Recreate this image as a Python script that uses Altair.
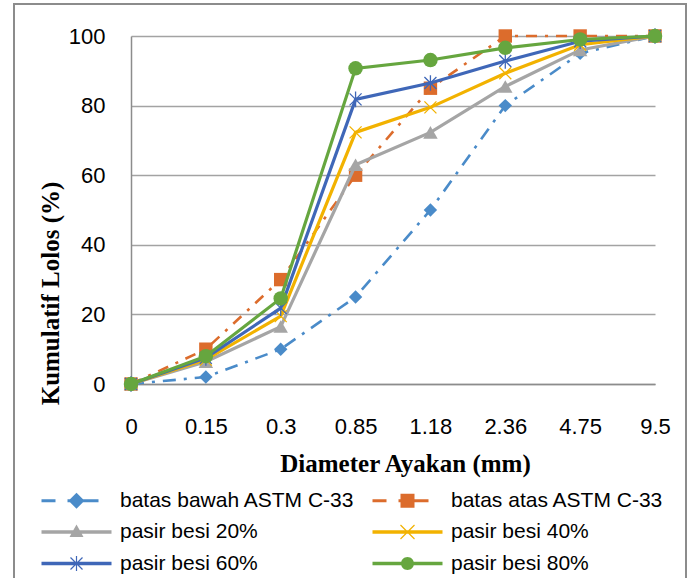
import altair as alt
import pandas as pd
import math

# ---------------- data ----------------
categories = ["0", "0.15", "0.3", "0.85", "1.18", "2.36", "4.75", "9.5"]
series_names = [
    "batas bawah ASTM C-33",
    "batas atas ASTM C-33",
    "pasir besi 20%",
    "pasir besi 40%",
    "pasir besi 60%",
    "pasir besi 80%",
]
batas_bawah = [0, 2, 10, 25, 50, 80, 95, 100]
batas_atas = [0, 10, 30, 60, 85, 100, 100, 100]
pasir_20 = [0, 6.4, 16.5, 63, 72.3, 85.5, 96, 100]
pasir_40 = [0, 7, 19.5, 72.3, 79.5, 89.3, 97.5, 100]
pasir_60 = [0, 7.5, 21.8, 81.8, 86.5, 92.8, 98.5, 100]
pasir_80 = [0, 8, 24.6, 90.7, 93.1, 96.6, 99, 100]
y_ticks = [0, 20, 40, 60, 80, 100]

all_values = [batas_bawah, batas_atas, pasir_20, pasir_40, pasir_60, pasir_80]

rows = []
for name, vals in zip(series_names, all_values):
    for c, v in zip(categories, vals):
        rows.append({"series": name, "d": c, "v": v})
df = pd.DataFrame(rows)

# ---------------- styles ----------------
colors = ["#4a8bc9", "#dc6c2c", "#a5a5a5", "#f2b200", "#3f67b8", "#66a63f"]
dashes = [[13, 8, 3, 8], [11, 8, 3, 8], None, None, None, None]
line_w = [2.6, 2.6, 3.2, 3.2, 3.2, 3.2]

x_path = "M-1,-1L1,1M-1,1L1,-1"
star_path = "M-1,-1L1,1M-1,1L1,-1M0,-1.3L0,1.3"
markers = [
    dict(shape="diamond", filled=True, size=180),
    dict(shape="square", filled=True, size=180),
    dict(shape="triangle-up", filled=True, size=210),
    dict(shape=x_path, filled=False, size=144, strokeWidth=1.3),
    dict(shape=star_path, filled=False, size=144, strokeWidth=1.3),
    dict(shape="circle", filled=True, size=210),
]


def poly(pts):
    area = 0
    for i in range(len(pts)):
        x1, y1 = pts[i]
        x2, y2 = pts[(i + 1) % len(pts)]
        area += x1 * y2 - x2 * y1
    if area < 0:
        pts = pts[::-1]
    s = "M" + "L".join(f"{x:.2f},{y:.2f}" for x, y in pts) + "Z"
    return s


def hbar(x1, x2, t=3.0):
    return poly([(x1, -t / 2), (x2, -t / 2), (x2, t / 2), (x1, t / 2)])


def bar(x1, y1, x2, y2, t=1.2):
    dx, dy = x2 - x1, y2 - y1
    n = math.hypot(dx, dy)
    nx, ny = -dy / n * t / 2, dx / n * t / 2
    return poly([(x1 + nx, y1 + ny), (x2 + nx, y2 + ny), (x2 - nx, y2 - ny), (x1 - nx, y1 - ny)])


def circle(r):
    return f"M{-r},0A{r},{r} 0 1,1 {r},0A{r},{r} 0 1,1 {-r},0Z"


legend_paths = [
    hbar(-35, -21, 3) + hbar(-9, 22, 3) + poly([(-8, 0), (0, -8), (8, 0), (0, 8)]),
    hbar(-35, -21, 3) + hbar(-9, 21, 3) + poly([(-7, -7), (7, -7), (7, 7), (-7, 7)]),
    hbar(-35, 35, 3.4) + poly([(0, -7.5), (7, 5), (-7, 5)]),
    hbar(-35, 35, 3.4) + bar(-7, -7, 7, 7) + bar(-7, 7, 7, -7),
    hbar(-35, 35, 3.4) + bar(-6, -6, 6, 6) + bar(-6, 6, 6, -6) + bar(0, -7.5, 0, 7.5),
    hbar(-35, 35, 3.4) + circle(6.5),
]

# ---------------- encodings ----------------
x_enc = alt.X(
    "d:O",
    sort=categories,
    scale=alt.Scale(type="point", padding=0),
    axis=alt.Axis(
        title="Diameter Ayakan (mm)",
        labelAngle=0,
        grid=False,
        ticks=False,
        tickSize=0,
        domain=True,
        domainColor="#8c8c8c",
        domainWidth=1.5,
        labelFont="Liberation Sans",
        labelFontSize=22,
        labelColor="black",
        labelPadding=32,
        titleFont="Liberation Serif",
        titleFontSize=25,
        titleFontWeight="bold",
        titleColor="black",
        titleX=274,
        titleY=79,
        titleAlign="center",
        titleBaseline="middle",
    ),
)
y_enc = alt.Y(
    "v:Q",
    scale=alt.Scale(domain=[0, 100], nice=False),
    axis=alt.Axis(
        title="Kumulatif Lolos (%)",
        values=y_ticks,
        grid=True,
        gridColor="#a3a3a3",
        gridWidth=1.3,
        ticks=False,
        tickSize=0,
        domain=True,
        domainColor="#8c8c8c",
        domainWidth=1.5,
        labelFont="Liberation Sans",
        labelFontSize=22,
        labelColor="black",
        labelPadding=26,
        titleFont="Liberation Serif",
        titleFontSize=25,
        titleFontWeight="bold",
        titleColor="black",
        titleAngle=270,
        titleX=-81,
        titleY=257,
        titleAlign="center",
        titleBaseline="middle",
    ),
)

layers = []

# decorative outer frame
frame = alt.Chart(pd.DataFrame({"f": [0]})).mark_rect(
    fillOpacity=0, stroke="#8c8c8c", strokeWidth=2
).encode(
    x=alt.value(-117), x2=alt.value(555), y=alt.value(-32), y2=alt.value(560)
)
layers.append(frame)

for i, name in enumerate(series_names):
    base = alt.Chart(df).transform_filter(alt.datum.series == name)
    lkw = dict(color=colors[i], strokeWidth=line_w[i])
    if dashes[i] is not None:
        lkw["strokeDash"] = dashes[i]
    line = base.mark_line(**lkw).encode(x=x_enc, y=y_enc)
    mk = markers[i]
    pkw = dict(shape=mk["shape"], filled=mk["filled"], size=mk["size"], opacity=1)
    if mk["filled"]:
        pkw["color"] = colors[i]
        pkw["fill"] = colors[i]
    else:
        pkw["stroke"] = colors[i]
        pkw["strokeWidth"] = mk.get("strokeWidth", 1.3)
    pts = base.mark_point(**pkw).encode(x=x_enc, y=y_enc)
    layers += [line, pts]

leg = alt.Legend(
    title=None,
    orient="none",
    direction="horizontal",
    legendX=-65,
    legendY=454,
    columns=2,
    symbolSize=4,
    symbolStrokeWidth=0,
    labelFont="Liberation Sans",
    labelFontSize=21,
    labelColor="black",
    labelOffset=33,
    labelLimit=400,
    columnPadding=17,
    rowPadding=9.5,
    padding=0,
)

legend_layer = alt.Chart(df).mark_point(filled=True, opacity=1).encode(
    x=x_enc,
    y=y_enc,
    color=alt.Color("series:N", scale=alt.Scale(domain=series_names, range=colors), legend=leg),
    shape=alt.Shape("series:N", scale=alt.Scale(domain=series_names, range=legend_paths), legend=leg),
).transform_filter("false")
layers.append(legend_layer)

chart = alt.layer(*layers).properties(
    width=524,
    height=348,
    padding={"left": 13, "top": 3, "right": 0, "bottom": 0},
    background="white",
).configure_view(stroke=None)

chart.save("out.html", embed_options={"renderer": "svg", "actions": False})
